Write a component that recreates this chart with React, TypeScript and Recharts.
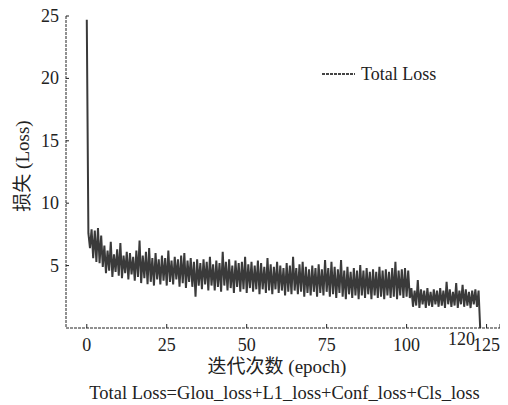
import React from 'react';
import { LineChart, Line, XAxis, YAxis, Label } from 'recharts';

// epoch step between consecutive loss readings
const STEP = 0.5;

// Total loss readings, epochs 0 - 49.5
const lossStageA = [
  24.7, 7.6, 6.4, 7.9, 5.6, 7.8, 5.3, 8.0, 5.2, 7.4,
  4.9, 6.6, 4.4, 6.2, 4.6, 6.9, 4.1, 5.9, 4.5, 6.3,
  4.2, 6.8, 4.0, 5.8, 4.4, 6.1, 3.9, 6.0, 4.3, 5.7,
  3.8, 6.2, 4.1, 7.0, 3.6, 5.8, 4.0, 6.1, 3.5, 6.4,
  3.7, 5.6, 3.4, 6.0, 3.9, 5.5, 3.5, 5.8, 3.8, 5.6,
  3.4, 6.2, 3.7, 5.4, 3.5, 5.7, 3.9, 5.5, 3.3, 5.8,
  3.6, 6.0, 3.2, 5.4, 3.7, 5.6, 3.3, 5.3, 2.5, 5.5,
  3.4, 5.2, 3.1, 5.5, 3.5, 5.3, 3.0, 5.7, 3.4, 5.1,
  3.0, 5.4, 3.3, 5.2, 2.9, 6.1, 3.4, 5.3, 3.0, 5.5,
  3.2, 5.0, 2.8, 5.4, 3.3, 5.2, 2.9, 5.3, 3.1, 5.7,
];

// epochs 50 - 99.5
const lossStageB = [
  2.8, 5.1, 3.2, 5.3, 2.9, 5.0, 3.1, 5.4, 2.7, 5.2,
  3.1, 4.9, 2.8, 5.6, 3.0, 5.1, 2.7, 4.9, 3.1, 5.3,
  2.8, 5.0, 3.0, 4.8, 2.6, 5.2, 2.9, 5.0, 2.7, 5.7,
  3.0, 4.8, 2.7, 5.1, 2.9, 5.3, 2.5, 4.9, 2.8, 4.7,
  2.6, 5.0, 2.9, 4.8, 2.5, 5.1, 2.8, 4.7, 2.6, 5.45,
  2.9, 4.8, 2.5, 5.3, 2.7, 4.9, 2.4, 4.7, 2.8, 5.45,
  2.5, 4.6, 2.3, 4.9, 2.7, 4.5, 2.4, 4.8, 2.6, 4.6,
  2.3, 5.05, 2.6, 4.6, 2.4, 4.8, 2.7, 4.5, 2.3, 4.7,
  2.6, 4.5, 2.4, 4.9, 2.5, 4.6, 2.3, 4.7, 2.6, 4.5,
  2.4, 4.8, 2.5, 5.3, 2.3, 4.6, 2.6, 4.7, 2.4, 4.8,
];

// epochs 100 - 123
const lossStageC = [
  2.5, 4.6, 2.4, 3.2, 1.7, 3.0, 1.8, 3.85, 1.6, 3.1,
  1.9, 3.0, 1.6, 3.2, 1.8, 2.9, 1.7, 3.1, 1.9, 3.0,
  1.7, 3.2, 1.8, 3.0, 1.6, 3.7, 1.9, 3.1, 1.7, 2.9,
  1.8, 3.6, 1.6, 3.0, 1.9, 3.45, 1.7, 3.1, 1.8, 2.9,
  1.6, 3.0, 1.9, 3.1, 1.7, 3.0, 0,
];

const X_TICKS = [0, 25, 50, 75, 100, 120, 125, 129.2];
const X_DOMAIN = [-6.5, 129.2];
const Y_TICKS = [5, 10, 15, 20, 25];
const Y_DOMAIN = [0, 25];

const SERIES_NAME = 'Total Loss';
const X_TITLE = '迭代次数 (epoch)';
const Y_TITLE = '损失 (Loss)';
const CAPTION = 'Total Loss=Glou_loss+L1_loss+Conf_loss+Cls_loss';

const allLoss = [...lossStageA, ...lossStageB, ...lossStageC];
const data = allLoss.map((v, i) => ({ epoch: i * STEP, loss: v }));

const FONT = "'Liberation Serif', 'Times New Roman', 'Noto Sans CJK SC', serif";
const INK = '#222';

const XTick = (props: any) => {
  const { x, y, payload } = props;
  const v = payload.value;
  if (v === 120) {
    return (
      <text x={x - 9} y={y + 11} textAnchor="middle" dominantBaseline="central"
        fontFamily={FONT} fontSize={18} fill={INK}>{v}</text>
    );
  }
  return (
    <g>
      <line x1={x} x2={x} y1={y} y2={y - 4} stroke={INK} strokeWidth={1} />
      {v <= 125 && (
        <text x={x} y={y + 17} textAnchor="middle" dominantBaseline="central"
          fontFamily={FONT} fontSize={18} fill={INK}>{v}</text>
      )}
    </g>
  );
};

const YTick = (props: any) => {
  const { x, y, payload } = props;
  return (
    <g>
      <line x1={x} x2={x + 3} y1={y} y2={y} stroke={INK} strokeWidth={1} />
      <text x={x - 7} y={y} textAnchor="end" dominantBaseline="central"
        fontFamily={FONT} fontSize={18} fill={INK}>{payload.value}</text>
    </g>
  );
};

const XTitle = () => (
  <g>
    <text x={277} y={366} textAnchor="middle" dominantBaseline="central"
      fontFamily={FONT} fontSize={19} fill={INK}>{X_TITLE}</text>
    <text x={284.5} y={393} textAnchor="middle" dominantBaseline="central"
      fontFamily={FONT} fontSize={18.5} fill={INK}>{CAPTION}</text>
    <line x1={322} y1={74} x2={355} y2={74} stroke="#444" strokeWidth={2} strokeDasharray="3 1" />
    <text x={361} y={74} dominantBaseline="central" fontFamily={FONT} fontSize={18} fill={INK}>
      {SERIES_NAME}
    </text>
  </g>
);

const YTitle = () => (
  <text x={22} y={166} textAnchor="middle" dominantBaseline="central"
    transform="rotate(-90 22 166)" fontFamily={FONT} fontSize={19} fill={INK}>{Y_TITLE}</text>
);

export default function App() {
  return (
    <div style={{ width: 508, height: 405, margin: '-8px 0 0 -8px' }}>
      <LineChart width={508} height={405} data={data}
        margin={{ top: 16, right: 8, bottom: 47, left: 0 }}>
        <XAxis dataKey="epoch" type="number" domain={X_DOMAIN} ticks={X_TICKS}
          allowDataOverflow interval={0} height={30} tickSize={0} tickMargin={0}
          tickLine={false} tick={<XTick />}
          axisLine={{ stroke: INK, strokeWidth: 1, strokeDasharray: '3 1' }}>
          <Label content={<XTitle />} />
        </XAxis>
        <YAxis type="number" domain={Y_DOMAIN} ticks={Y_TICKS} interval={0}
          allowDataOverflow width={66} tickSize={0} tickMargin={0}
          tickLine={false} tick={<YTick />}
          axisLine={{ stroke: INK, strokeWidth: 1, strokeDasharray: '3 1' }}>
          <Label content={<YTitle />} />
        </YAxis>
        <Line type="linear" dataKey="loss" name={SERIES_NAME} stroke="#3a3a3a"
          strokeWidth={2} strokeLinejoin="bevel" dot={false} isAnimationActive={false} />
      </LineChart>
    </div>
  );
}
